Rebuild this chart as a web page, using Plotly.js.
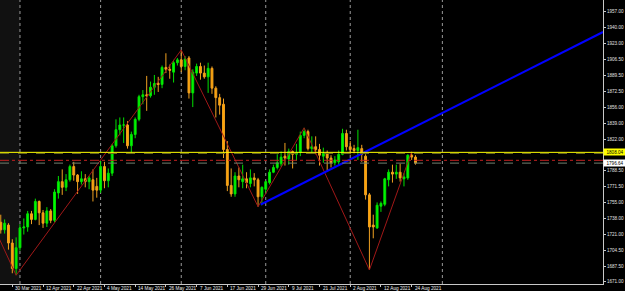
<!DOCTYPE html>
<html>
<head>
<meta charset="utf-8">
<script src="https://cdn.plot.ly/plotly-3.0.1.min.js"></script>
<style>
html,body{margin:0;padding:0;background:#000;}
#chart{width:625px;height:291px;}
</style>
</head>
<body>
<div id="chart"></div>
<script>
// bar index 0 = 30 Mar 2021 (daily bars, XAUUSD)
const barIdx = [];
for (let i = -3; i <= 105; i++) barIdx.push(i);
const open  = [1734,1726,1731,1712,1685,1707,1728,1729,1743,1737,1756,1744,1733,1746,1736,1765,1777,1771,1779,1793,1784,1777,1780,1777,1779,1772,1768,1793,1778,1786,1815,1832,1837,1837,1815,1827,1843,1867,1869,1868,1877,1881,1880,1898,1896,1893,1903,1906,1899,1908,1871,1892,1899,1892,1888,1897,1876,1866,1859,1811,1773,1764,1783,1777,1780,1775,1781,1779,1761,1769,1776,1787,1792,1796,1804,1801,1809,1806,1808,1826,1830,1812,1814,1811,1804,1807,1802,1797,1798,1806,1828,1814,1812,1810,1812,1804,1763,1731,1728,1751,1753,1779,1787,1785,1787,1780,1781,1805,1803];
const high  = [1742,1737,1733,1716,1718,1732,1738,1746,1746,1759,1757,1747,1750,1748,1769,1783,1790,1785,1795,1798,1785,1788,1785,1783,1790,1781,1799,1798,1791,1817,1843,1845,1845,1841,1830,1845,1869,1874,1889,1883,1890,1888,1900,1913,1901,1906,1908,1916.5,1910,1910,1896,1902,1903,1900,1903,1899,1878,1870,1865,1820,1791,1787,1792,1795,1787,1790,1786,1781,1772,1778,1790,1795,1806,1809,1818,1812,1810,1817,1830,1834,1832,1825,1825,1817,1813,1810,1805,1804,1810,1833,1832,1820,1816,1832,1816,1806,1765,1742,1755,1756,1781,1790,1795,1795,1796,1786,1806,1808.6,1805];
const low   = [1722,1722,1705,1680,1678,1704,1721,1724,1732,1736,1731,1728,1729,1733,1734,1759,1763,1767,1777,1778,1764,1774,1771,1769,1756,1760,1765,1770,1771,1783,1813,1826,1818,1812,1808,1823,1841,1859,1852,1866,1869,1872,1876,1892,1886,1882,1900,1893,1895,1865,1856,1889,1885,1886,1871,1870,1845,1848,1802,1767,1761,1761,1771,1770,1770,1771,1772,1750.5,1752,1765,1774,1786,1790,1793,1794,1795,1791,1799,1804,1823,1810,1808,1806,1794,1797,1789,1792,1794,1795,1805,1810,1806,1807,1800,1798,1758,1683.5,1717,1727,1745,1751,1772,1776,1780,1777,1772,1779,1800,1795];
const close = [1726,1733,1712,1685,1707,1728,1729,1743,1737,1756,1744,1733,1746,1736,1766,1777,1771,1779,1793,1784,1777,1780,1777,1781,1768,1768,1793,1778,1786,1815,1832,1837,1837,1815,1827,1843,1867,1869,1868,1877,1881,1880,1898,1896,1895,1903,1906,1899,1907,1871,1893,1899,1892,1888,1897,1876,1866,1858,1811,1773,1764,1783,1779,1780,1776,1781,1779,1761,1771,1777,1787,1792,1797,1803,1802,1809,1806,1808,1826,1830,1812,1814,1811,1805,1807,1802,1797,1800,1806,1828,1814,1811,1810,1813,1806,1763,1729,1729,1752,1754,1780,1787,1785,1787,1781,1782,1805,1803,1796.64];

// axis labels
const priceTicks = [1957,1940,1923,1906.5,1889.5,1872.5,1856,1839,1822,1788.5,1771.5,1755,1738,1721,1704.5,1687.5,1671];
const dateTickIdx = [-8,0,8,16,24,32,40,48,56,64,72,80,88,96,104];
const dateTickText = ['18 Mar 2021','30 Mar 2021','12 Apr 2021','22 Apr 2021','4 May 2021','14 May 2021','26 May 2021','7 Jun 2021','17 Jun 2021','29 Jun 2021','9 Jul 2021','21 Jul 2021','2 Aug 2021','12 Aug 2021','24 Aug 2021'];
const monthGridIdx = [2,23,44,66,88,112];

// objects
const zigzagIdx = [-8,1,44,64,76,93,104];
const zigzagVal = [1757,1677.9,1916.5,1750.5,1834,1683.5,1808.6];
const trendIdx = [64.7,153.83];
const trendVal = [1752.8,1935.5];
const hLineYellow = 1808.04;
const hLineRed = 1799.6;
const bidLine = 1796.64;

const xRange = [-3.203, 153.83];
const yRange = [1668.6, 1969.4];
const FONT = 'Liberation Sans, Arial, sans-serif';

const traces = [
  {type:'candlestick', x:barIdx, open:open, high:high, low:low, close:close,
   increasing:{line:{color:'#00e000',width:1}, fillcolor:'#00ff00'},
   decreasing:{line:{color:'#f0a020',width:1}, fillcolor:'#ffa500'},
   whiskerwidth:0, showlegend:false, hoverinfo:'skip'},
  {type:'scatter', mode:'lines', x:zigzagIdx, y:zigzagVal,
   line:{color:'#a01818', width:1}, showlegend:false, hoverinfo:'skip', cliponaxis:true},
  {type:'scatter', mode:'lines', x:trendIdx, y:trendVal,
   line:{color:'#0000ff', width:2}, showlegend:false, hoverinfo:'skip'}
];

const shapes = [];
shapes.push({type:'rect', xref:'paper', yref:'paper', x0:0, x1:0.033, y0:0, y1:1,
  fillcolor:'#111111', line:{width:0}, layer:'below'});
monthGridIdx.forEach(g => shapes.push({type:'line', xref:'x', yref:'paper', x0:g, x1:g, y0:0, y1:1,
  line:{color:'#9a9a9a', width:1, dash:'dot'}, layer:'below'}));
shapes.push({type:'line', xref:'paper', yref:'y', x0:0, x1:1, y0:hLineYellow, y1:hLineYellow, line:{color:'#ffff00', width:1}});
shapes.push({type:'line', xref:'paper', yref:'y', x0:0, x1:1, y0:hLineYellow-1.2, y1:hLineYellow-1.2, line:{color:'#6b6b1a', width:1, dash:'dash'}});
shapes.push({type:'line', xref:'paper', yref:'y', x0:0, x1:1, y0:hLineRed, y1:hLineRed, line:{color:'#c02020', width:1, dash:'dashdot'}});
shapes.push({type:'line', xref:'paper', yref:'y', x0:0, x1:1, y0:bidLine, y1:bidLine, line:{color:'#708070', width:1, dash:'dash'}});

const annotations = [];
dateTickIdx.forEach((d,i) => annotations.push({xref:'x', yref:'paper', x:d, y:0, xanchor:'left', yanchor:'top',
  yshift:-0.3, xshift:1, text:dateTickText[i], showarrow:false,
  font:{family:FONT, size:4.7, color:'#f0f0f0'}}));
annotations.push({xref:'paper', yref:'y', x:1, y:hLineYellow, xanchor:'left', yanchor:'middle', xshift:0,
  text:hLineYellow.toFixed(2), showarrow:false, bgcolor:'#ffff00', borderpad:0.5, width:21,
  font:{family:FONT, size:4.6, color:'#000000'}});
annotations.push({xref:'paper', yref:'y', x:1, y:bidLine, xanchor:'left', yanchor:'middle', xshift:0,
  text:bidLine.toFixed(2), showarrow:false, bgcolor:'#ffffff', borderpad:0.5, width:21,
  font:{family:FONT, size:4.6, color:'#000000'}});

const layout = {
  width:625, height:291,
  margin:{l:0, r:22, t:0, b:7, pad:0},
  paper_bgcolor:'#000000', plot_bgcolor:'#000000',
  showlegend:false, hovermode:false,
  xaxis:{range:xRange, type:'linear', rangeslider:{visible:false}, showgrid:false, zeroline:false,
    showline:true, linecolor:'#c8c8c8', linewidth:1,
    tickmode:'array', tickvals:dateTickIdx, ticktext:dateTickIdx.map(()=>''), ticks:'outside', ticklen:2, tickcolor:'#c8c8c8',
    showticklabels:false, fixedrange:true},
  yaxis:{range:yRange, side:'right', showgrid:false, zeroline:false,
    showline:true, linecolor:'#c8c8c8', linewidth:1,
    tickmode:'array', tickvals:priceTicks, ticktext:priceTicks.map(v=>v.toFixed(2)),
    ticks:'outside', ticklen:2, tickcolor:'#c8c8c8',
    tickfont:{family:FONT, size:4.6, color:'#e0e0e0'}, fixedrange:true},
  shapes:shapes, annotations:annotations
};

Plotly.newPlot('chart', traces, layout, {staticPlot:true, displayModeBar:false});
</script>
</body>
</html>
